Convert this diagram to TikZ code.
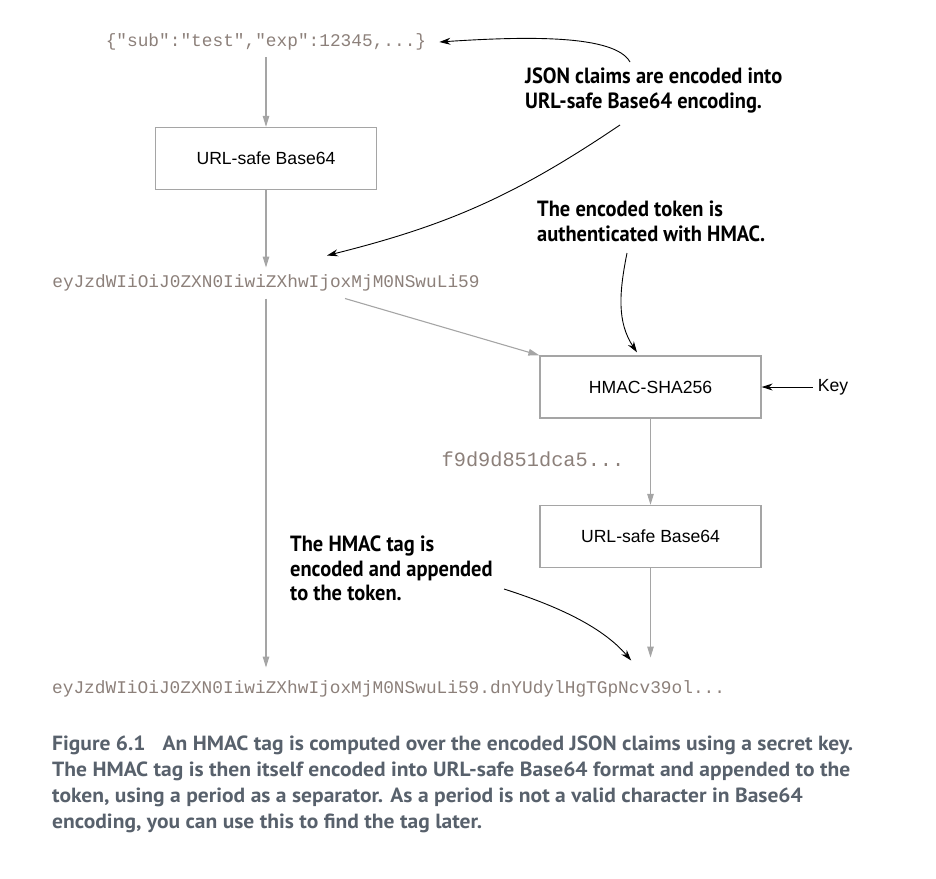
\documentclass[tikz,border=0pt]{standalone}
\usepackage{fontspec}
\setmainfont{Liberation Sans}
\newfontfamily\codefont{Liberation Mono}
\newfontfamily\notefont[FakeStretch=0.93]{PT Sans}
\newfontfamily\capfont[FakeStretch=1.05]{PT Sans}
\usepackage{tikz}
\usetikzlibrary{arrows.meta}
\definecolor{codegray}{RGB}{140,128,122}
\definecolor{linegray}{RGB}{165,165,165}
\definecolor{capblue}{RGB}{88,97,108}

\begin{document}
\begin{tikzpicture}[x=1pt, y=-1pt, every node/.style={inner sep=0pt},
    box/.style={rectangle, draw=linegray, line width=1.3pt, minimum width=221pt, minimum height=62pt, font=\fontsize{17.6}{20}\selectfont},
    code/.style={text=codegray, inner ysep=7pt, font=\codefont\fontsize{17.8}{20}\selectfont},
    note/.style={anchor=north west, align=left, font=\notefont\bfseries\fontsize{22}{24.5}\selectfont},
    flow/.style={draw=linegray, line width=1.1pt, -{Triangle[length=11pt,width=6.5pt]}},
    callout/.style={draw=black, line width=0.9pt, -{Stealth[length=11pt,width=7pt]}}]
    \useasboundingbox (0,0) rectangle (936,878);
    % main chain
    \node[code] (json) at (266,42) {\{"sub":"test","exp":12345,...\}};
    \node[box] (enc1) at (266,158.5) {URL-safe Base64};
    \node[code] (tok) at (266,283) {eyJzdWIiOiJ0ZXN0IiwiZXhwIjoxMjM0NSwuLi59};
    \node[box] (hmac) at (650.5,387) {HMAC-SHA256};
    \node[inner sep=5pt, font=\fontsize{17.6}{20}\selectfont] (key) at (833,387) {Key};
    \node[code, font=\codefont\fontsize{20.3}{22}\selectfont] (tag) at (533,459) {f9d9d851dca5...};
    \node[box] (enc2) at (650.5,536.5) {URL-safe Base64};
    \node[code, anchor=west] (jwt) at (52,689) {eyJzdWIiOiJ0ZXN0IiwiZXhwIjoxMjM0NSwuLi59.dnYUdylHgTGpNcv39ol...};
    \draw[flow] (json) -- (enc1);
    \draw[flow] (enc1) -- (tok);
    \draw[flow] (tok.south) -- ([yshift=6pt]tok.south |- jwt.north);
    \draw[flow] ([xshift=79pt]tok.south) -- (hmac.north west);
    \draw[flow] (hmac) -- (enc2);
    \draw[flow] (enc2.south) -- ([yshift=16pt]enc2.south |- jwt.north);
    \draw[callout] (key) -- (hmac);
    % callouts
    \node[note] (note1) at (525,68) {JSON claims are encoded into\\URL-safe Base64 encoding.};
    \node[note] (note2) at (537,201) {The encoded token is\\authenticated with HMAC.};
    \node[note] (note3) at (290,536) {The HMAC tag is\\encoded and appended\\to the token.};
    \draw[callout] ([xshift=105pt,yshift=6pt]note1.north west) .. controls +(-15,-27) and +(90,-6) .. ([xshift=13pt]json.east);
    \draw[callout] ([xshift=95pt,yshift=-57pt]note1.north west) to[bend left=10] ([xshift=61pt,yshift=12pt]tok.north);
    \draw[callout] ([xshift=90pt,yshift=-52pt]note2.north west) .. controls +(-8,40) and +(-20,-30) .. ([xshift=-13.5pt,yshift=3pt]hmac.north);
    \draw[callout] ([xshift=214pt,yshift=-53pt]note3.north west) .. controls +(50,16) and +(-30,-35) .. ([xshift=242.5pt,yshift=13pt]jwt.north);
    % caption
    \node[anchor=north west, align=left, text=capblue, font=\capfont\bfseries\fontsize{20.5}{26}\selectfont] (caption) at (52,736)
        {Figure 6.1\hspace{17pt}An HMAC tag is computed over the encoded JSON claims using a secret key.\\
         The HMAC tag is then itself encoded into URL-safe Base64 format and appended to the\\
         token, using a period as a separator. As a period is not a valid character in Base64\\
         encoding, you can use this to find the tag later.};
\end{tikzpicture}
\end{document}
